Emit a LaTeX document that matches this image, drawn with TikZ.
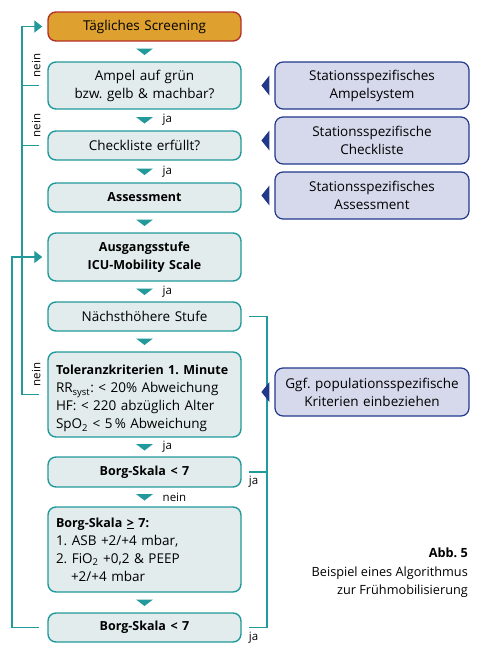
\documentclass[tikz,border=0pt]{standalone}
\usepackage{fontspec}
\setmainfont{Open Sans}
\usetikzlibrary{calc,arrows.meta}
\definecolor{tealc}{HTML}{22999A}
\definecolor{boxfill}{HTML}{E2ECEC}
\definecolor{orangefill}{HTML}{DEA130}
\definecolor{redline}{HTML}{B5322B}
\definecolor{navy}{HTML}{22388A}
\definecolor{navyfill}{HTML}{D6D9EC}
\frenchspacing
\newcommand{\boldpart}[1]{{\fontsize{12.5}{18}\selectfont\bfseries #1}}

\begin{document}
\begin{tikzpicture}[
  x=1pt, y=-1pt,
  stage/.style={rounded corners=8pt, draw=tealc, line width=1.4pt, fill=boxfill,
    text width=177pt, inner xsep=8pt, inner ysep=0pt, align=center,
    font=\fontsize{13.5}{18}\selectfont},
  start/.style={stage, draw=redline, fill=orangefill},
  info/.style={rounded corners=8pt, draw=navy, line width=1.2pt, fill=navyfill,
    text width=180pt, inner xsep=7pt, inner ysep=0pt, align=center,
    font=\fontsize{13.5}{18}\selectfont},
  link/.style={draw=tealc, line width=1.3pt},
  tip/.style={-{Triangle[length=8pt,width=12pt]}, shorten >=5pt},
  answer/.style={inner sep=0pt, font=\fontsize{11.5}{13}\selectfont}
]
  \useasboundingbox (0,0) rectangle (480,653);

  \node[start, minimum height=29pt] (screen) at (144.5,26.5) {Tägliches Screening};
  \node[stage, minimum height=47pt] (ampel) at (144.5,85.5) {Ampel auf grün\\bzw. gelb \& machbar?};
  \node[stage, minimum height=29pt] (check) at (144.5,145.5) {Checkliste erfüllt?};
  \node[stage, minimum height=29pt] (assess) at (144.5,197.5) {\boldpart{Assessment}};
  \node[stage, minimum height=48pt] (ausgang) at (144.5,257) {\boldpart{Ausgangsstufe}\\\boldpart{ICU-Mobility Scale}};
  \node[stage, minimum height=29pt] (next) at (144.5,316.5) {Nächsthöhere Stufe};
  \node[stage, minimum height=85pt, align=left] (tolerance) at (144.5,394.5)
    {\rule{0pt}{18pt}\boldpart{Toleranzkriterien 1. Minute}\\RR\textsubscript{syst}: < 20\% Abweichung\\HF: < 220 abzüglich Alter\\SpO\textsubscript{2} < 5\,\% Abweichung};
  \node[stage, minimum height=30pt] (borgA) at (144.5,472) {\boldpart{Borg-Skala < 7}};
  \node[stage, minimum height=85pt, align=left] (borgB) at (144.5,549.5)
    {\boldpart{Borg-Skala \underline{>} 7:}\\1. ASB +2/+4 mbar,\\2. FiO\textsubscript{2} +0,2 \& PEEP\\\hspace*{15pt}+2/+4 mbar};
  \node[stage, minimum height=29pt] (borgC) at (144.5,627.5) {\boldpart{Borg-Skala < 7}};

  \node[info, minimum height=47pt] (ampelsys) at (372,85.5) {Stationsspezifisches\\Ampelsystem};
  \node[info, minimum height=47pt] (checklist) at (372,140.5) {Stationsspezifische\\Checkliste};
  \node[info, minimum height=47pt] (assesssys) at (372,195.5) {Stationsspezifisches\\Assessment};
  \node[info, minimum height=48pt] (population) at (372,392) {Ggf. populationsspezifische\\Kriterien einbeziehen};

  \node[anchor=north east, align=right, inner sep=0pt, font=\fontsize{12.7}{18.5}\selectfont] (caption) at (468,548)
    {\textbf{Abb. 5}\\Beispiel eines Algorithmus\\zur Frühmobilisierung};

  \coordinate (inner) at (22,0);
  \coordinate (outer) at (12,0);
  \coordinate (right) at (267,0);

  \foreach \a/\b in {screen/ampel, ampel/check, check/assess, assess/ausgang, ausgang/next,
      next/tolerance, tolerance/borgA, borgA/borgB, borgB/borgC} {
    \coordinate (m-\a) at ($(\a.south)!0.5!(\b.north)$);
    \fill[tealc] ($(m-\a)+(-8.5,-3)$) -- ($(m-\a)+(8.5,-3)$) -- ($(m-\a)+(0,3.5)$) -- cycle;
  }
  \foreach \a/\t in {ampel/ja, check/ja, ausgang/ja, tolerance/ja, borgA/nein}
    \node[answer, anchor=west] (say-\a) at ($(m-\a)+(18,0)$) {\t};

  \draw[link, tip, shorten <=8pt] (tolerance.west) -- (tolerance.west -| inner) |- (screen.west);
  \draw[link, shorten <=8pt] (ampel.west) -- (ampel.west -| inner);
  \draw[link, shorten <=8pt] (check.west) -- (check.west -| inner);
  \draw[link, tip, shorten <=8pt] (borgC.west) -- (borgC.west -| outer) |- (ausgang.west);
  \foreach \a in {ampel, check, tolerance}
    \node[answer, rotate=90] (no-\a) at ($(\a.west)+(-11,-20)$) {nein};

  \draw[link, shorten <=7pt, shorten >=7pt] (next.east) -- (next.east -| right) -- (borgC.east -| right) -- (borgC.east);
  \draw[link, shorten <=7pt] (borgA.east) -- (borgA.east -| right);
  \foreach \a in {borgA, borgC}
    \node[answer, anchor=north west] (yes-\a) at ($(\a.east)+(7,4)$) {ja};

  \foreach \n in {ampelsys, checklist, assesssys, population}
    \fill[navy] ($(\n.west)+(-5,-10)$) -- ($(\n.west)+(-5,10)$) -- ($(\n.west)+(-13,0)$) -- cycle;
\end{tikzpicture}
\end{document}
